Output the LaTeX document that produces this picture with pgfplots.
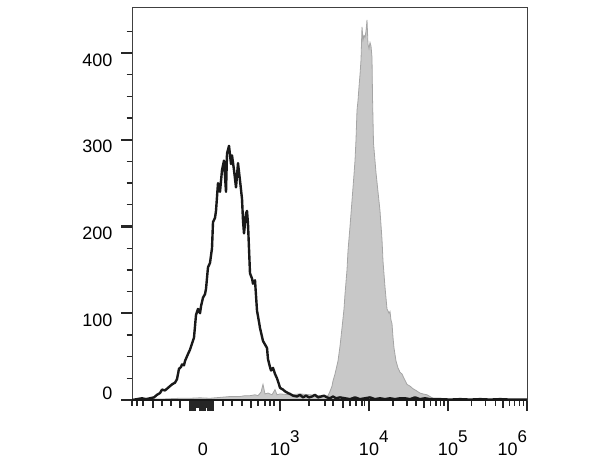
\documentclass[border=0pt]{standalone}
\usepackage{pgfplots}
\pgfplotsset{compat=1.18}
\usepackage{fontspec}
\setmainfont{Liberation Sans}
\definecolor{gfill}{RGB}{200,200,200}
\definecolor{gedge}{RGB}{165,165,165}
\definecolor{bline}{RGB}{25,25,25}
\newcommand{\supx}[1]{\raisebox{13pt}{\fontsize{17}{18}\selectfont #1}}
\begin{document}
\begin{tikzpicture}[x=1pt,y=1pt]
\path[use as bounding box] (0,0) rectangle (615,461);
\begin{axis}[
  at={(132pt,61pt)}, anchor=south west,
  scale only axis, width=395pt, height=393pt,
  xmin=132, xmax=527, ymin=0, ymax=453,
  no markers,
  axis line style={line width=0.9pt, color=black!75},
  tick align=outside, xtick pos=bottom, ytick pos=left,
  major tick length=11pt, minor tick length=5.5pt,
  major tick style={line width=2.4pt, color=black!85},
  minor tick style={line width=1.3pt, color=black!85},
  /pgf/number format/assume math mode=true,
  tick label style={font=\fontsize{18}{20}\selectfont},
  ytick={100,200,300,400},
  yticklabel style={yshift=-7pt, xshift=-5pt},
  minor ytick={25,50,75,125,150,175,225,250,275,325,350,375,425},
  extra y ticks={0},
  extra y tick style={yticklabel style={yshift=14pt}},
  xtick={190,191.5,193,194.5,200,201.5,203,204.5,208.5,210,211.5,213,280,369,448,527},
  xticklabels={,,,,,,0,,,,,,
    \makebox[0pt]{10\rlap{\supx{3}}},
    \makebox[0pt]{10\rlap{\supx{4}}},
    \makebox[0pt]{10\rlap{\supx{5}}},
    \makebox[0pt][r]{10\supx{6}}},
  xticklabel style={anchor=base, yshift=-44pt},
  minor xtick={132,137,143,162,171,223,232,242,258,265,270,274,309,325,333,350,356,362,364.5,393,407,416,430.5,436,440.5,444,471.8,485.7,495.6,509.5,514.8,519.3,523.4},
  extra x ticks={153,180,251,343,424,503.2,196,197.5,199,206,207},
  extra x tick labels={},
  extra x tick style={major tick length=8pt, major tick style={line width=1.6pt}},
]
% filled (stained) histogram
\addplot[draw=gedge, line width=0.8pt, fill=gfill] table {
x y
132 0
140 0.5
150 1
160 1
170 1.5
180 2
190 2
200 2.5
210 2
220 3
230 4
240 4
245 5
250 5
255 6
258 5
261 9
263 18
265 7
268 8
272 6
275 12
277 6
280 7
290 6
300 7
310 6
320 5
325 4
328 5
330 10
332 16
333 22
335 30
338 45
340 62
342 83
344 105
345 122
347 150
348 172
350 200
352 230
354 260
355 276
356 300
357 334
358 345
359 361
360 375
361 392
362 430
363 415
364 420
365 418
366 425
367 438
368 410
369 405
370 412
371 408
372 395
372.5 350
373.5 296
376 262
378 240
380 218
382 185
383 160
385 130
387 105
389 100
390 102
391 92
392 88
393 72
394 60
396 45
398 37
400 32
402 30
404 25
407 18
410 16
413 13
416 11
420 8
423 7
427 6
430 4
433 2
436 1
440 0.5
450 0
527 0
} \closedcycle;
% unstained / control histogram
\addplot[draw=bline, line width=2.4pt, line join=round] table {
x y
132 0
137 1
142 2
146 1
150 2
154 3
157 6
160 8
162 12
165 11
167 13
170 16
172 18
175 20
177 24
179 36
181 38
182 41
184 40
185 45
188 53
190 58
192 65
194 72
196 98
198 105
200 100
201 108
203 118
205 122
206 128
208 153
210 158
212 175
213 205
215 210
216 218
218 250
220 240
222 265
224 276
226 240
227 284
229 293
231 272
232 282
234 265
236 245
238 273
240 253
242 232
243 207
244 192
246 215
247 218
248 203
250 146
252 140
253 134
255 138
257 103
259 90
260 83
263 68
265 64
267 60
268 47
270 38
271 34
273 37
275 30
277 25
279 18
280 14
283 12
285 10
288 8
290 7
293 5
297 4
300 6
303 3
306 5
309 3
312 4
315 6
318 3
321 4
324 5
327 3
330 2
333 4
336 2
340 3
345 2
350 1
355 3
360 1
365 2
370 3
375 1
380 2
385 1
390 2
395 1
400 2
405 2
410 1
415 3
420 1
425 2
430 1
440 1
450 0.5
460 1
470 0.5
480 1
490 0.5
500 1
510 0.5
527 0.5
};
\draw[line width=2.6pt, color=black!90] (rel axis cs:0,0) -- (rel axis cs:1,0);
\end{axis}
\end{tikzpicture}
\end{document}
